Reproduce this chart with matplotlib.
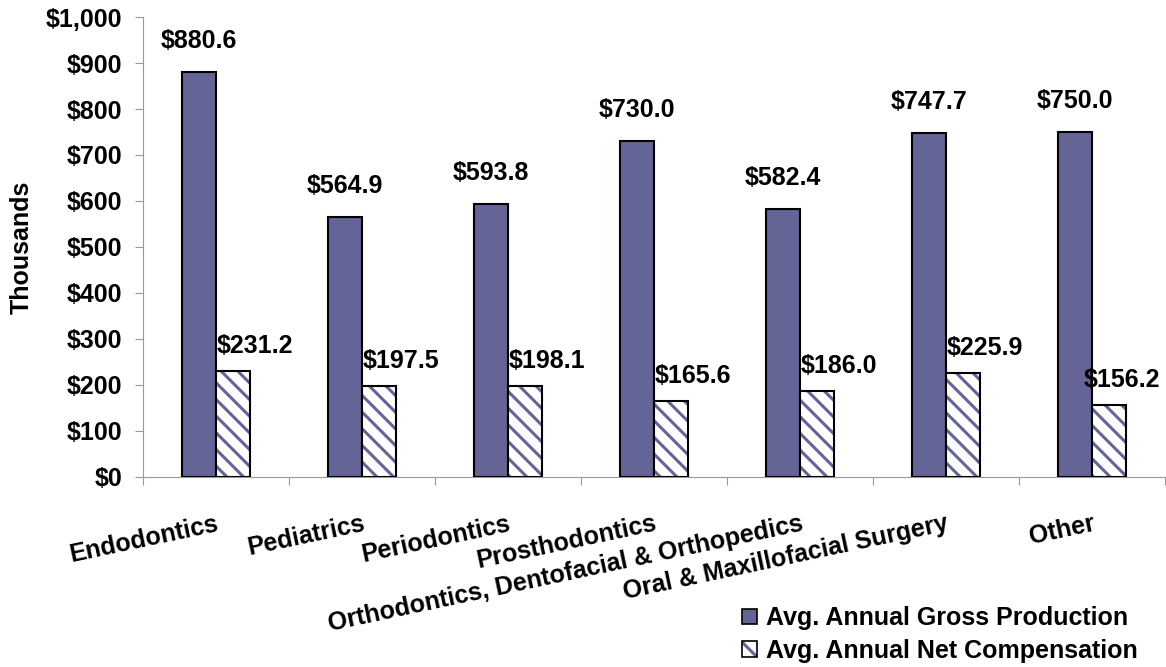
import matplotlib.pyplot as plt
import numpy as np
from matplotlib.patches import Patch
from matplotlib.legend_handler import HandlerTuple

plt.rcParams["font.family"] = ["Liberation Sans", "DejaVu Sans"]
plt.rcParams["font.weight"] = "bold"
plt.rcParams["hatch.linewidth"] = 2.2

categories = ["Endodontics", "Pediatrics", "Periodontics", "Prosthodontics",
              "Orthodontics, Dentofacial & Orthopedics",
              "Oral & Maxillofacial Surgery", "Other"]
gross = [880.6, 564.9, 593.8, 730.0, 582.4, 747.7, 750.0]
net = [231.2, 197.5, 198.1, 165.6, 186.0, 225.9, 156.2]
yticks = [0, 100, 200, 300, 400, 500, 600, 700, 800, 900, 1000]

purple = "#646496"
w = 0.235
fs = 18

fig = plt.figure(figsize=(11.66, 6.67), dpi=100)
ax = fig.add_axes([0.1226, 0.2849, 0.8764, 0.6896])

x = np.arange(len(categories))
ax.bar(x - w / 2, gross, w, color=purple, edgecolor="black", linewidth=1.5, zorder=3)
# hatched bars: stripes first, then the black outline on top
ax.bar(x + w / 2, net, w, color="white", edgecolor=purple, hatch="\\\\",
       linewidth=0, zorder=3)
ax.bar(x + w / 2, net, w, fill=False, edgecolor="black", linewidth=1.5, zorder=4)

for xi, v in zip(x, gross):
    ax.annotate(f"${v:.1f}", (xi - w / 2, v), xytext=(0, 19),
                textcoords="offset pixels", ha="center", va="bottom",
                fontsize=fs, fontweight="bold")
for i, (xi, v) in enumerate(zip(x, net)):
    dx = 22 if i < len(net) - 1 else 13  # last one kept inside the figure
    ax.annotate(f"${v:.1f}", (xi + w / 2, v), xytext=(dx, 13),
                textcoords="offset pixels", ha="center", va="bottom",
                fontsize=fs, fontweight="bold")

ax.set_xlim(-0.5, len(categories) - 0.5)
ax.set_ylim(0, 1000)
ax.set_yticks(yticks)
ax.set_yticklabels([f"${t:,}" for t in yticks], fontsize=fs, fontweight="bold")
ax.set_ylabel("Thousands", fontsize=fs, fontweight="bold")
ax.yaxis.set_label_coords(-0.107, 0.5)

ax.set_xticks(np.arange(len(categories) + 1) - 0.5)
ax.set_xticklabels([])
ax.set_xticks(x, minor=True)
ax.set_xticklabels(categories, minor=True, rotation=12, ha="right",
                   rotation_mode="anchor", fontsize=fs, fontweight="bold")
ax.tick_params(axis="x", which="minor", length=0, pad=25)
ax.tick_params(axis="x", which="major", length=6, color="#999999")
ax.tick_params(axis="y", length=6, color="#999999", pad=9)

for s in ["top", "right"]:
    ax.spines[s].set_visible(False)
for s in ["left", "bottom"]:
    ax.spines[s].set_color("#999999")

h1 = Patch(facecolor=purple, edgecolor="black", linewidth=1.2)
h2a = Patch(facecolor="white", edgecolor=purple, hatch="\\\\", linewidth=0)
h2b = Patch(fill=False, edgecolor="black", linewidth=1.2)
fig.legend([h1, (h2a, h2b)],
           ["Avg. Annual Gross Production", "Avg. Annual Net Compensation"],
           handler_map={tuple: HandlerTuple(ndivide=1, pad=0)},
           loc="lower left", bbox_to_anchor=(742 / 1166, 4 / 667),
           borderpad=0, borderaxespad=0, frameon=False,
           prop={"size": fs, "weight": "bold"}, handlelength=0.6,
           handleheight=0.6, handletextpad=0.35, labelspacing=0.35)

fig.savefig("out.png", dpi=100)
